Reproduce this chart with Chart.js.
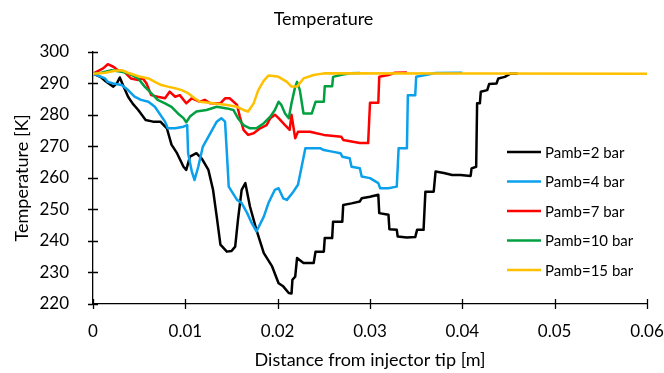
<!DOCTYPE html>
<html>
<head>
<meta charset="utf-8">
<script src="https://cdn.jsdelivr.net/npm/chart.js@4.4.1/dist/chart.umd.min.js"></script>
<style>
  html, body { margin: 0; padding: 0; background: #fff; }
  #wrap { width: 664px; height: 373px; }
</style>
</head>
<body>
<div id="wrap"><canvas id="chart"></canvas></div>
<script>
// Temperature along the spray axis, one curve per ambient pressure
const seriesLabels = ["Pamb=2 bar", "Pamb=4 bar", "Pamb=7 bar", "Pamb=10 bar", "Pamb=15 bar"];
const seriesColors = ["#000000", "#0AA0EC", "#FF0000", "#00A040", "#FFC000"];

const x2 = [0, 0.0008, 0.0014, 0.0022, 0.0026, 0.0029, 0.0033, 0.0038, 0.0043, 0.0049, 0.0057, 0.0065, 0.0073, 0.0080, 0.0085, 0.0091, 0.0098, 0.0101, 0.0105, 0.0112, 0.0118, 0.0125, 0.0130, 0.0134, 0.0138, 0.0145, 0.0150, 0.0154, 0.0157, 0.0161, 0.0165, 0.0170, 0.0177, 0.0185, 0.0194, 0.0201, 0.0206, 0.0212, 0.0215, 0.0216, 0.0219, 0.0221, 0.0228, 0.0239, 0.0241, 0.0250, 0.0251, 0.0259, 0.0260, 0.0270, 0.0271, 0.0280, 0.0289, 0.0291, 0.0300, 0.0309, 0.0310, 0.0320, 0.0321, 0.0329, 0.0330, 0.0340, 0.0349, 0.0351, 0.0358, 0.0360, 0.0369, 0.0371, 0.0380, 0.0389, 0.0398, 0.0409, 0.0410, 0.0415, 0.0416, 0.0419, 0.0420, 0.0427, 0.0429, 0.0437, 0.0439, 0.0446, 0.0452, 0.0460];
const t2 = [293.0, 292.0, 290.5, 288.9, 290.0, 291.8, 289.0, 285.7, 283.5, 281.5, 278.3, 277.8, 277.8, 275.7, 270.5, 267.8, 263.5, 262.5, 266.7, 267.8, 266.0, 262.5, 256.2, 247.7, 238.8, 236.6, 236.8, 238.2, 246.7, 256.2, 258.3, 250.9, 243.5, 236.1, 231.9, 226.6, 225.6, 223.5, 223.3, 227.7, 228.7, 234.6, 233.0, 233.0, 236.6, 236.6, 240.9, 240.9, 246.1, 246.1, 251.4, 251.9, 252.5, 253.5, 254.0, 254.6, 248.8, 248.3, 243.7, 243.5, 241.4, 241.1, 241.2, 243.5, 243.5, 255.6, 255.6, 262.0, 261.5, 260.9, 260.9, 260.6, 263.0, 263.5, 283.6, 283.6, 287.3, 287.8, 289.7, 289.9, 291.5, 292.0, 293.0, 293.0];

const x4 = [0, 0.0013, 0.0016, 0.0022, 0.0031, 0.0038, 0.0045, 0.0052, 0.0060, 0.0067, 0.0072, 0.0078, 0.0081, 0.0089, 0.0098, 0.0102, 0.0103, 0.0107, 0.0110, 0.0114, 0.0119, 0.0127, 0.0134, 0.0139, 0.0143, 0.0145, 0.0147, 0.0156, 0.0161, 0.0167, 0.0172, 0.0177, 0.0185, 0.0190, 0.0197, 0.0201, 0.0206, 0.0210, 0.0217, 0.0222, 0.0230, 0.0246, 0.0250, 0.0259, 0.0268, 0.0270, 0.0278, 0.0280, 0.0289, 0.0291, 0.0300, 0.0309, 0.0311, 0.0320, 0.0329, 0.0331, 0.0340, 0.0341, 0.0349, 0.0350, 0.0360, 0.0371, 0.0400];
const t4 = [293.0, 291.5, 290.4, 289.9, 289.4, 287.8, 285.7, 284.7, 284.1, 282.5, 280.4, 277.8, 275.7, 275.7, 276.2, 276.7, 267.8, 262.0, 259.3, 263.5, 269.9, 274.1, 277.8, 278.9, 277.8, 267.8, 257.2, 253.0, 252.0, 248.8, 245.6, 243.0, 247.7, 252.0, 256.2, 256.7, 253.5, 253.0, 255.6, 257.8, 269.4, 269.4, 268.8, 268.3, 267.8, 266.7, 266.2, 263.5, 263.0, 260.4, 259.9, 258.3, 256.7, 256.7, 257.2, 269.4, 269.4, 286.2, 286.2, 292.0, 292.6, 293.2, 293.3];

const x7 = [0, 0.0011, 0.0016, 0.0022, 0.0027, 0.0034, 0.0041, 0.0049, 0.0054, 0.0058, 0.0063, 0.0070, 0.0078, 0.0083, 0.0089, 0.0094, 0.0101, 0.0107, 0.0116, 0.0121, 0.0127, 0.0138, 0.0143, 0.0148, 0.0156, 0.0159, 0.0163, 0.0168, 0.0174, 0.0181, 0.0188, 0.0192, 0.0197, 0.0201, 0.0208, 0.0213, 0.0215, 0.0219, 0.0222, 0.0235, 0.0242, 0.0250, 0.0269, 0.0271, 0.0280, 0.0289, 0.0298, 0.0300, 0.0309, 0.0310, 0.0320, 0.0327, 0.0340];
const t7 = [293.0, 294.7, 296.0, 295.2, 294.1, 293.6, 291.5, 291.0, 291.5, 289.9, 286.2, 285.7, 285.2, 287.3, 285.7, 286.2, 283.6, 285.2, 284.1, 284.7, 283.6, 283.6, 285.2, 285.2, 283.1, 279.4, 275.2, 273.6, 274.1, 275.7, 276.7, 278.9, 280.0, 278.9, 276.7, 275.2, 280.0, 272.5, 274.6, 274.6, 274.1, 273.6, 273.0, 272.0, 271.5, 271.0, 271.0, 283.8, 283.8, 292.0, 292.6, 293.3, 293.4];

const x10 = [0, 0.0009, 0.0020, 0.0031, 0.0038, 0.0049, 0.0056, 0.0063, 0.0070, 0.0078, 0.0085, 0.0092, 0.0098, 0.0101, 0.0105, 0.0112, 0.0123, 0.0134, 0.0145, 0.0152, 0.0157, 0.0163, 0.0170, 0.0177, 0.0185, 0.0192, 0.0197, 0.0201, 0.0204, 0.0208, 0.0212, 0.0215, 0.0219, 0.0221, 0.0224, 0.0228, 0.0237, 0.0241, 0.0250, 0.0251, 0.0259, 0.0260, 0.0268, 0.0278, 0.0289];
const t10 = [293.0, 293.3, 294.1, 293.6, 293.1, 291.5, 288.9, 286.8, 284.7, 283.6, 282.5, 280.4, 278.9, 277.6, 279.4, 281.0, 281.5, 282.5, 282.0, 281.5, 278.9, 276.7, 275.7, 275.7, 277.3, 279.4, 281.5, 284.1, 283.1, 280.4, 278.9, 283.6, 288.9, 290.4, 287.8, 280.4, 280.4, 284.1, 284.1, 289.0, 289.0, 292.0, 292.6, 293.1, 293.2];

const x15 = [0, 0.0013, 0.0024, 0.0031, 0.0038, 0.0049, 0.0060, 0.0067, 0.0074, 0.0081, 0.0089, 0.0096, 0.0103, 0.0110, 0.0116, 0.0130, 0.0145, 0.0156, 0.0163, 0.0168, 0.0174, 0.0179, 0.0185, 0.0190, 0.0195, 0.0201, 0.0210, 0.0215, 0.0221, 0.0228, 0.0239, 0.0250, 0.0600];
const t15 = [293.0, 293.3, 293.9, 294.1, 293.3, 292.2, 291.5, 290.4, 289.4, 288.9, 288.4, 287.8, 286.8, 285.2, 284.1, 283.6, 283.1, 282.5, 281.5, 281.0, 283.6, 287.8, 290.8, 292.4, 292.3, 292.0, 290.4, 288.9, 288.9, 291.5, 292.6, 293.1, 293.0];

const seriesX = [x2, x4, x7, x10, x15];
const seriesT = [t2, t4, t7, t10, t15];

const FONT = "Lato, 'Liberation Sans', sans-serif";

// axis lines with tick marks crossing both sides, plus the legend inside the plot
const crossTicks = {
  id: "crossTicks",
  afterDraw(chart) {
    const ctx = chart.ctx;
    const area = chart.chartArea;
    const xs = chart.scales.x, ys = chart.scales.y;
    ctx.save();
    ctx.strokeStyle = "#000";
    ctx.lineWidth = 1.3;
    ctx.beginPath();
    ys.ticks.forEach(t => {
      const y = Math.round(ys.getPixelForValue(t.value)) + 0.5;
      ctx.moveTo(area.left - 5, y);
      ctx.lineTo(area.left + 5, y);
    });
    xs.ticks.forEach(t => {
      const x = Math.round(xs.getPixelForValue(t.value)) + 0.5;
      ctx.moveTo(x, area.bottom - 5);
      ctx.lineTo(x, area.bottom + 5);
    });
    ctx.stroke();

    // legend
    const lx = 507, ly = 152, gap = 29.5;
    ctx.font = "15px " + FONT;
    ctx.textBaseline = "middle";
    ctx.fillStyle = "#000";
    seriesLabels.forEach((lab, i) => {
      const y = ly + i * gap;
      ctx.strokeStyle = seriesColors[i];
      ctx.lineWidth = 2.5;
      ctx.beginPath();
      ctx.moveTo(lx, y);
      ctx.lineTo(lx + 34, y);
      ctx.stroke();
      ctx.fillText(lab, lx + 38, y + 1);
    });
    ctx.restore();
  }
};

const datasets = seriesLabels.map((lab, i) => ({
  label: lab,
  data: seriesX[i].map((x, k) => ({ x: x, y: seriesT[i][k] })),
  borderColor: seriesColors[i],
  backgroundColor: seriesColors[i],
  borderWidth: 2.5,
  pointRadius: 0,
  tension: 0,
  fill: false,
  borderJoinStyle: "round",
  order: seriesLabels.length - i
}));

new Chart(document.getElementById("chart"), {
  type: "line",
  data: { datasets },
  options: {
    responsive: true,
    maintainAspectRatio: false,
    animation: false,
    layout: { padding: { left: 0, right: 17, top: 0, bottom: 0 } },
    plugins: {
      legend: { display: false },
      tooltip: { enabled: false },
      title: {
        display: true,
        text: "Temperature",
        color: "#000",
        font: { family: FONT, size: 18, weight: "normal", lineHeight: 1.2 },
        padding: { top: 8, bottom: 22 }
      }
    },
    scales: {
      x: {
        type: "linear",
        min: 0,
        max: 0.06,
        afterFit: s => { s.height = 69; s.paddingRight = 0; },
        ticks: {
          stepSize: 0.01,
          padding: 9,
          color: "#000",
          font: { family: FONT, size: 17 },
          callback: v => (Math.round(v * 100) / 100).toString()
        },
        grid: { display: false },
        border: { display: true, color: "#000", width: 1.3 },
        title: {
          display: true,
          text: "Distance from injector tip [m]",
          color: "#000",
          font: { family: FONT, size: 18, lineHeight: 1.2 },
          padding: { top: 0, bottom: 2 }
        }
      },
      y: {
        min: 220,
        max: 300,
        afterFit: s => { s.width = 93; },
        ticks: {
          stepSize: 10,
          padding: 16,
          color: "#000",
          font: { family: FONT, size: 17 }
        },
        grid: { display: false },
        border: { display: true, color: "#000", width: 1.3 },
        title: {
          display: true,
          text: "Temperature [K]",
          color: "#000",
          font: { family: FONT, size: 18, lineHeight: 1.2 },
          padding: { top: 11, bottom: 0 }
        }
      }
    }
  },
  plugins: [crossTicks]
});
</script>
</body>
</html>
